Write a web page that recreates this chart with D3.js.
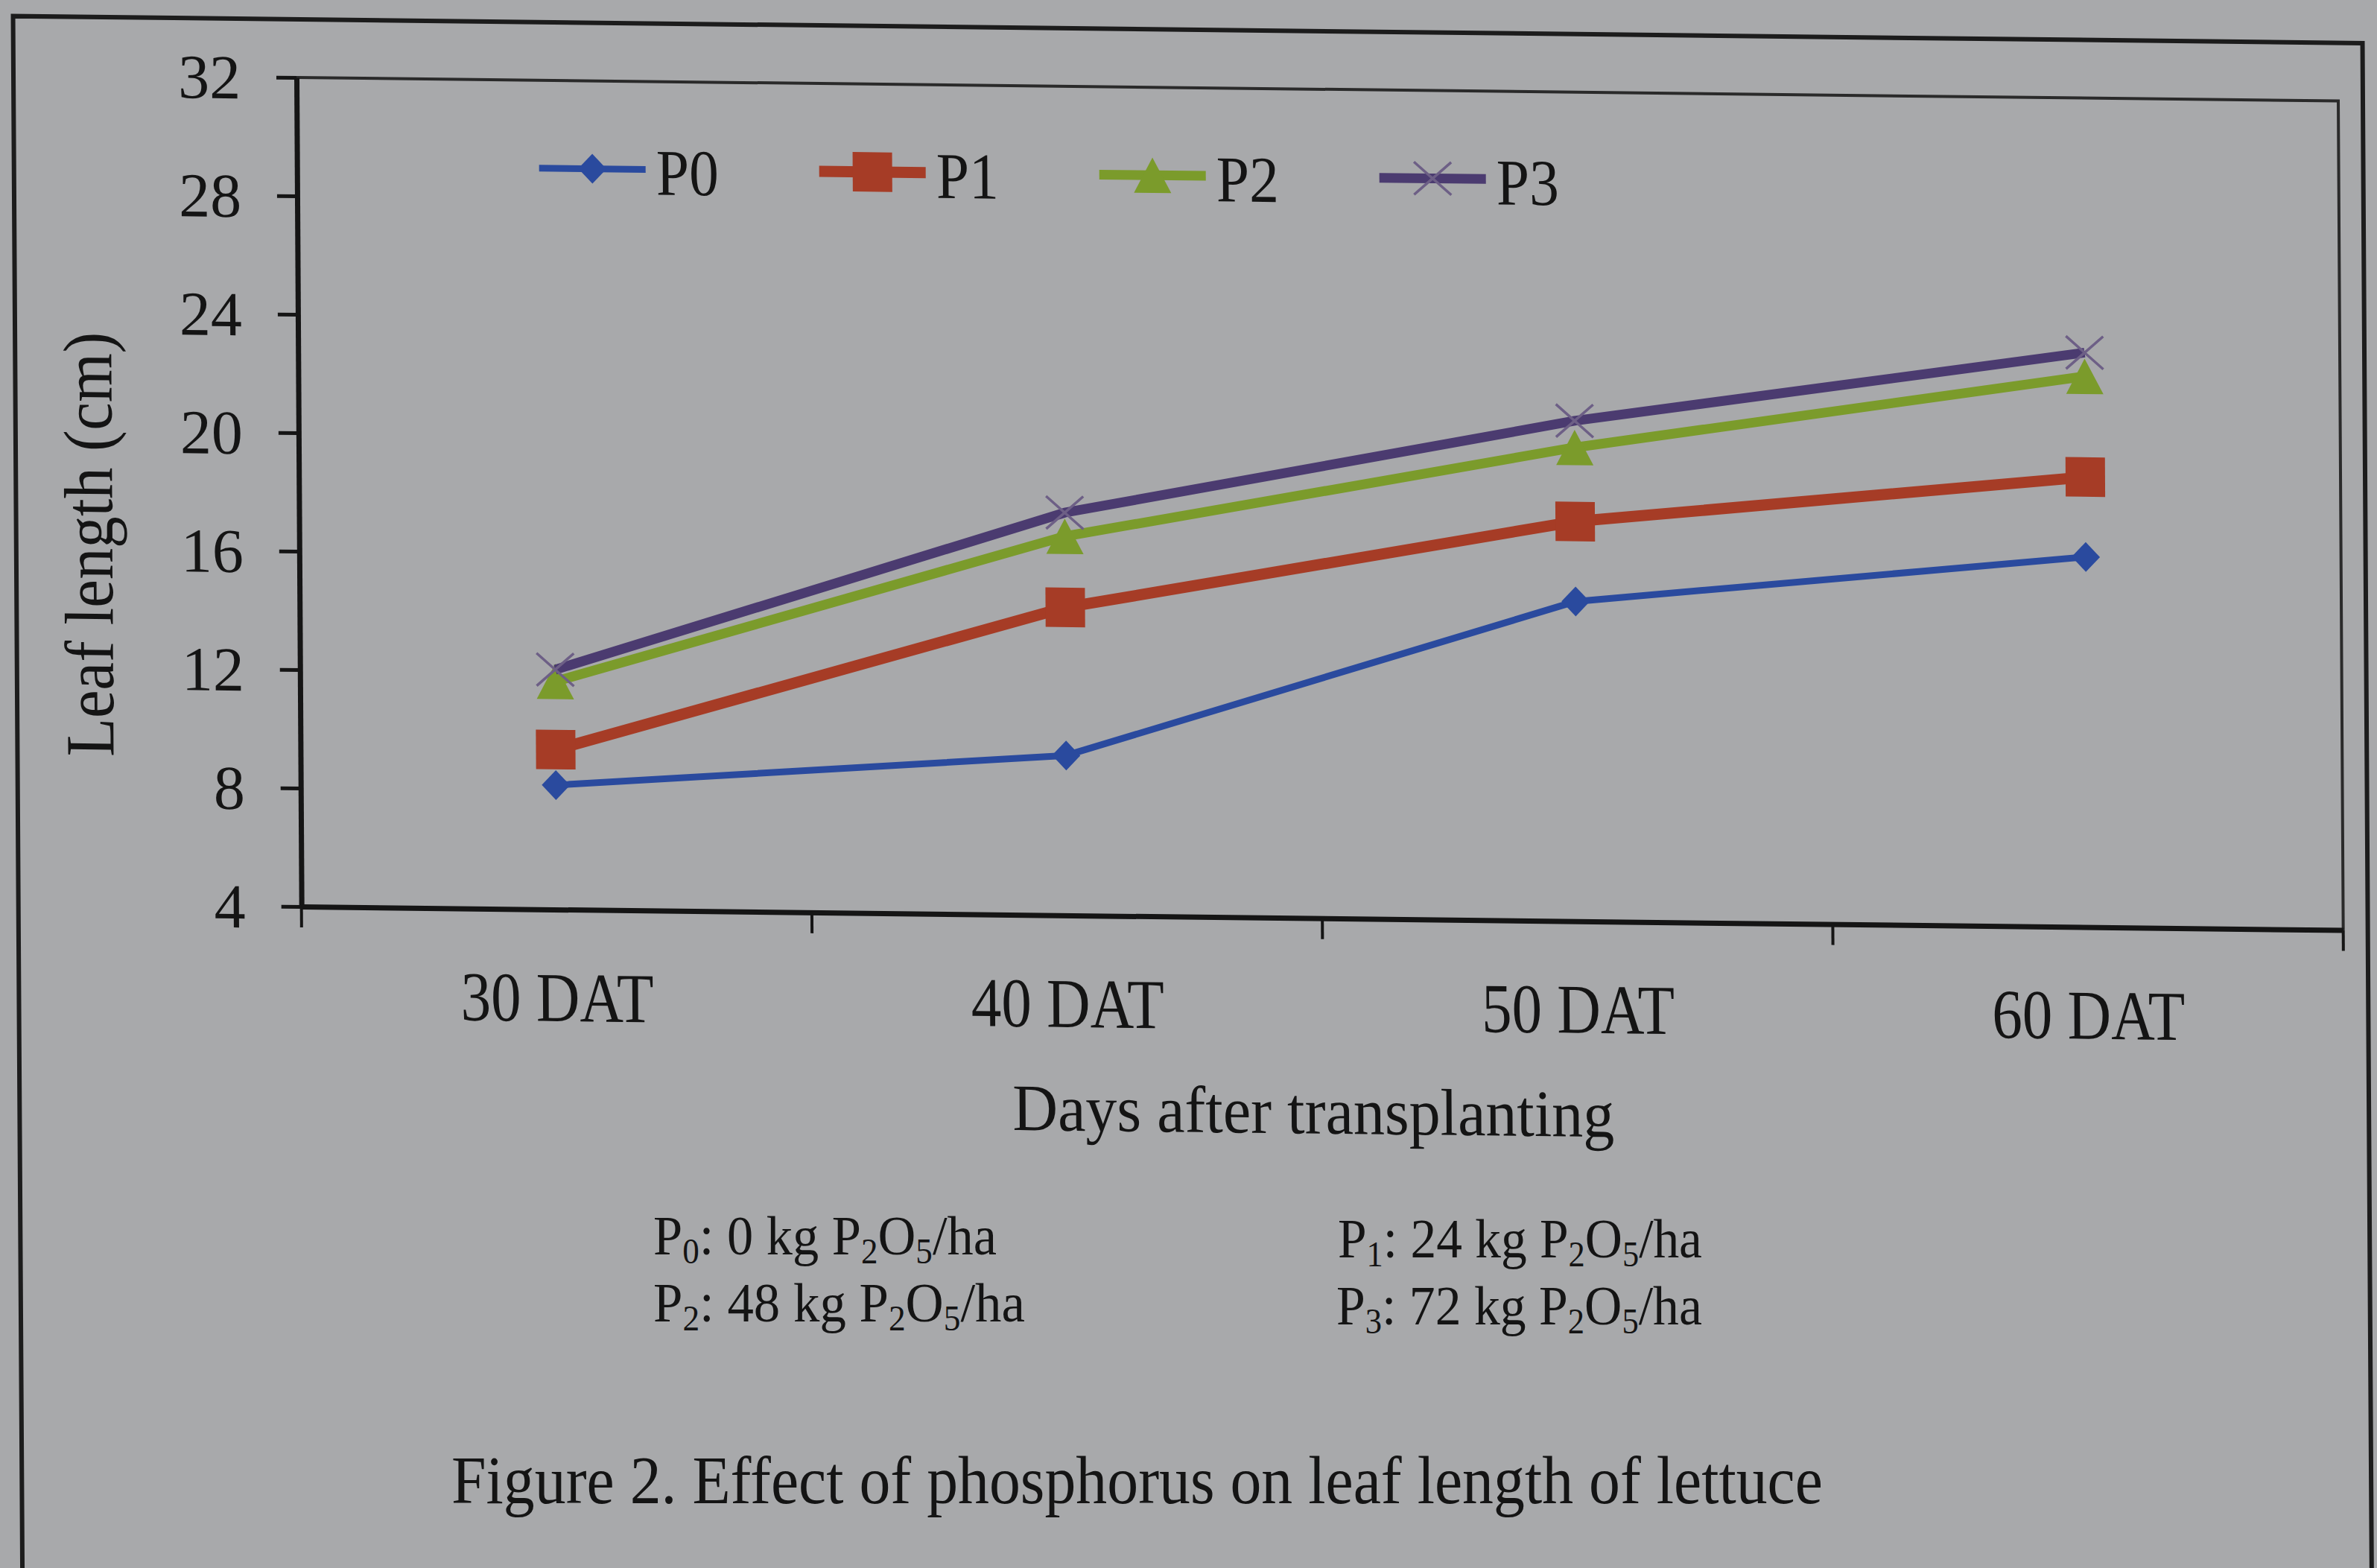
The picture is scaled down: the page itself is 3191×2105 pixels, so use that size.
<!DOCTYPE html>
<html><head><meta charset="utf-8">
<script src="https://cdn.jsdelivr.net/npm/d3@7"></script>
<style>
html,body{margin:0;padding:0;background:#a8a9ab;}
svg{display:block;}
</style></head><body>
<svg id="chart" width="3191" height="2105"></svg>
<script>
// ---------------- data ----------------
const categories = ["30 DAT", "40 DAT", "50 DAT", "60 DAT"];
const seriesNames = ["P0", "P1", "P2", "P3"];
const p0Values = [8.2, 9.4, 14.8, 16.5];
const p1Values = [9.4, 14.4, 17.5, 19.2];
const p2Values = [11.7, 16.8, 20.0, 22.6];
const p3Values = [12.1, 17.6, 20.9, 23.4];
const yTickValues = [4, 8, 12, 16, 20, 24, 28, 32];
const yDomain = [4, 32];
const yAxisTitle = "Leaf length (cm)";
const xAxisTitle = "Days after transplanting";
const doseLabels = ["0", "24", "48", "72"];   // kg P2O5/ha for P0..P3
const captionText = "Figure 2. Effect of phosphorus on leaf length of lettuce";

// ---------------- styles ----------------
const seriesColors = ["#2a4a9e", "#a63c26", "#7b9b2b", "#4b3b70"];
const markerColors = ["#2a4a9e", "#a63c26", "#7b9b2b", "#6d5f86"];
const lineWidths = [9, 15, 13, 13];
const FONT = "'Liberation Serif','Times New Roman',serif";
const INK = "#141414";

const allValues = [p0Values, p1Values, p2Values, p3Values];
const series = seriesNames.map((n, i) => ({ name: n, values: allValues[i], idx: i }));

// marker shapes (size = half extent)
const diamondType = { draw(c, r) { c.moveTo(0, -r); c.lineTo(r * 0.95, 0); c.lineTo(0, r); c.lineTo(-r * 0.95, 0); c.closePath(); } };
const squareType = { draw(c, r) { c.rect(-r, -r, 2 * r, 2 * r); } };
const triangleType = { draw(c, r) { c.moveTo(0, -r * 0.95); c.lineTo(r, r * 0.95); c.lineTo(-r, r * 0.95); c.closePath(); } };
const crossType = { draw(c, r) { c.moveTo(-r, -r * 0.88); c.lineTo(r, r * 0.88); c.moveTo(r, -r * 0.88); c.lineTo(-r, r * 0.88); } };
const markerTypes = [diamondType, squareType, triangleType, crossType];
const markerSizes = [20, 26.5, 25, 25];

const svg = d3.select("#chart");

// layout
const plotLeft = 398, plotRight = 3139, plotTop = 104, plotBottom = 1217;

// slight shear to follow the photographed page
const g = svg.append("g")
  .attr("transform", `translate(${plotLeft},${plotTop}) matrix(1,0.0115,0.006,1,0,0) translate(${-plotLeft},${-plotTop})`);

// outer frame
g.append("path")
  .attr("d", `M18,2200 V26 H3172 V2200`)
  .attr("fill", "none").attr("stroke", "#1c1c1c").attr("stroke-width", 6);

const x = d3.scaleBand().domain(categories).range([plotLeft, plotRight]).paddingInner(0).paddingOuter(0);
const y = d3.scaleLinear().domain(yDomain).range([plotBottom, plotTop]);

// plot border top & right
g.append("path")
  .attr("d", `M${plotLeft},${y(yDomain[1])} H${plotRight} V${y(yDomain[0])}`)
  .attr("fill", "none").attr("stroke", "#2a2a2a").attr("stroke-width", 4);

// y axis
const yAxis = g.append("g")
  .attr("transform", `translate(${plotLeft},0)`)
  .call(d3.axisLeft(y).tickValues(yTickValues).tickSize(27).tickSizeOuter(0).tickPadding(48).tickFormat(d3.format("d")));
yAxis.select(".domain").attr("stroke", "#151515").attr("stroke-width", 7);
yAxis.selectAll(".tick line").attr("stroke", "#151515").attr("stroke-width", 5);
yAxis.selectAll(".tick text")
  .attr("font-family", FONT).attr("font-size", 84).attr("fill", INK).attr("dy", "0.34em");

// x axis
const xAxis = g.append("g")
  .attr("transform", `translate(0,${plotBottom})`)
  .call(d3.axisBottom(x).tickSize(0).tickSizeOuter(0));
xAxis.select(".domain").attr("stroke", "#151515").attr("stroke-width", 7);
xAxis.selectAll(".tick text")
  .attr("font-family", FONT).attr("font-size", 94).attr("fill", INK)
  .attr("y", 150).attr("dy", 0)
  .attr("textLength", 259).attr("lengthAdjust", "spacingAndGlyphs");
// boundary ticks between categories
const boundaries = categories.map(c => x(c)).concat([x(categories[categories.length - 1]) + x.bandwidth()]);
xAxis.selectAll(".bound").data(boundaries).join("line")
  .attr("class", "bound")
  .attr("x1", d => d).attr("x2", d => d)
  .attr("y1", 0).attr("y2", 28)
  .attr("stroke", "#151515").attr("stroke-width", 4);

// axis titles
g.append("text")
  .attr("transform", `translate(147,734) rotate(-90)`)
  .attr("text-anchor", "middle")
  .attr("font-family", FONT).attr("font-size", 93).attr("fill", INK)
  .attr("textLength", 570).attr("lengthAdjust", "spacingAndGlyphs")
  .text(yAxisTitle);

g.append("text")
  .attr("x", 1755).attr("y", 1506)
  .attr("text-anchor", "middle")
  .attr("font-family", FONT).attr("font-size", 89).attr("fill", INK)
  .attr("textLength", 808).attr("lengthAdjust", "spacingAndGlyphs")
  .text(xAxisTitle);

// lines and markers
const cx = c => x(c) + x.bandwidth() / 2;
const line = d3.line().x((d, i) => cx(categories[i])).y(d => y(d));

series.forEach(s => {
  const sg = g.append("g").attr("class", "series");
  sg.append("path")
    .datum(s.values)
    .attr("d", line)
    .attr("fill", "none")
    .attr("stroke", seriesColors[s.idx])
    .attr("stroke-width", lineWidths[s.idx])
    .attr("stroke-linejoin", "round");
  const sym = d3.symbol().type(markerTypes[s.idx]).size(markerSizes[s.idx]);
  sg.selectAll("path.mk").data(s.values).join("path")
    .attr("class", "mk")
    .attr("transform", (d, i) => `translate(${cx(categories[i])},${y(d)})`)
    .attr("d", sym)
    .attr("fill", s.idx === 3 ? "none" : markerColors[s.idx])
    .attr("stroke", markerColors[s.idx])
    .attr("stroke-width", s.idx === 3 ? 3.5 : 0);
});

// legend
const legendX0 = 723, legendStep = 376, legendY = 222, legendLineLen = 143;
const lg = g.append("g").attr("class", "legend");
series.forEach(s => {
  const lx = legendX0 + s.idx * legendStep;
  lg.append("line")
    .attr("x1", lx).attr("x2", lx + legendLineLen)
    .attr("y1", legendY).attr("y2", legendY)
    .attr("stroke", seriesColors[s.idx]).attr("stroke-width", lineWidths[s.idx]);
  lg.append("path")
    .attr("transform", `translate(${lx + legendLineLen / 2},${legendY})`)
    .attr("d", d3.symbol().type(markerTypes[s.idx]).size(markerSizes[s.idx]))
    .attr("fill", s.idx === 3 ? "none" : markerColors[s.idx])
    .attr("stroke", markerColors[s.idx])
    .attr("stroke-width", s.idx === 3 ? 3.5 : 0);
  lg.append("text")
    .attr("x", lx + legendLineLen + 14).attr("y", legendY + 34)
    .attr("font-family", FONT).attr("font-size", 88).attr("fill", INK)
    .attr("textLength", 84).attr("lengthAdjust", "spacingAndGlyphs")
    .text(s.name);
});

// footnote: treatment definitions (flat, below the chart)
const footPos = [[877, 1684, 461], [1796, 1688, 489], [877, 1774, 499], [1794, 1778, 491]];
seriesNames.forEach((n, i) => {
  const [fx, fy, fw] = footPos[i];
  const t = svg.append("text")
    .attr("font-family", FONT).attr("font-size", 75).attr("fill", INK);
  const sub = 12, subSize = 48;
  t.append("tspan").text("P");
  t.append("tspan").attr("font-size", subSize).attr("dy", sub).text(n.slice(1));
  t.append("tspan").attr("dy", -sub).text(": " + doseLabels[i] + " kg P");
  t.append("tspan").attr("font-size", subSize).attr("dy", sub).text("2");
  t.append("tspan").attr("dy", -sub).text("O");
  t.append("tspan").attr("font-size", subSize).attr("dy", sub).text("5");
  t.append("tspan").attr("dy", -sub).text("/ha");
  const natural = t.node().getComputedTextLength() || fw;
  t.attr("transform", `translate(${fx},${fy}) scale(${fw / natural},1)`);
});

// caption
svg.append("text")
  .attr("x", 606).attr("y", 2018)
  .attr("font-family", FONT).attr("font-size", 92).attr("fill", INK)
  .attr("textLength", 1841).attr("lengthAdjust", "spacingAndGlyphs")
  .text(captionText);
</script>
</body></html>
